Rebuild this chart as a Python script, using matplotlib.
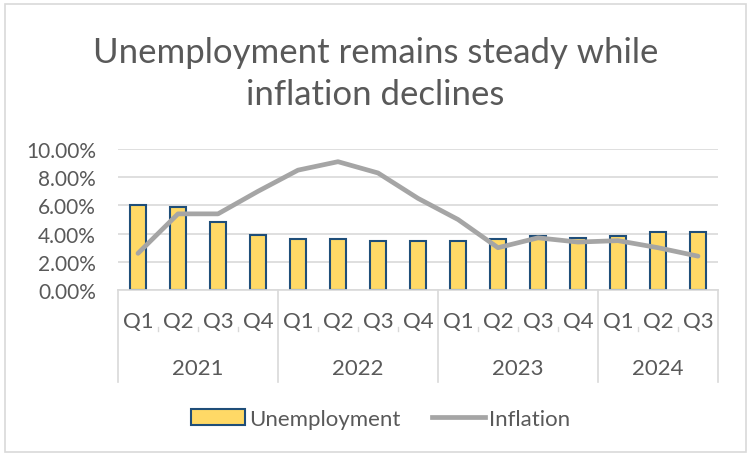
import numpy as np
import matplotlib.pyplot as plt
from matplotlib.patches import Rectangle
from matplotlib.lines import Line2D

years = ['2021', '2022', '2023', '2024']
quarters = ['Q1', 'Q2', 'Q3', 'Q4', 'Q1', 'Q2', 'Q3', 'Q4',
            'Q1', 'Q2', 'Q3', 'Q4', 'Q1', 'Q2', 'Q3']
year_sizes = [4, 4, 4, 3]
unemployment = [6.0, 5.9, 4.8, 3.9, 3.6, 3.6, 3.5, 3.5,
                3.5, 3.6, 3.8, 3.7, 3.8, 4.1, 4.1]
inflation = [2.6, 5.4, 5.4, 7.0, 8.5, 9.1, 8.3, 6.5,
             5.0, 3.0, 3.7, 3.4, 3.5, 3.0, 2.4]

plt.rcParams['font.family'] = ['Lato', 'DejaVu Sans']
txt = '#595959'
grid = '#D9D9D9'

fig = plt.figure(figsize=(7.51, 4.56), dpi=100)
W, H = 751, 456
ax = fig.add_axes([118 / W, 1 - 291 / H, 600 / W, 141 / H])

x = np.arange(len(quarters))
ax.bar(x, unemployment, width=0.4, color='#FFD966', edgecolor='#1F4E79',
       linewidth=1.5, zorder=2)
ax.plot(x, inflation, color='#A5A5A5', linewidth=3.4, solid_capstyle='round',
        solid_joinstyle='round', zorder=3)

ax.set_xlim(-0.5, len(quarters) - 0.5)
ax.set_ylim(0, 10)
ax.set_yticks(np.arange(0, 11, 2))
ax.set_yticklabels([f'{v:.2f}%' for v in np.arange(0, 11, 2)],
                   fontsize=15, color=txt)
ax.yaxis.grid(True, color=grid, linewidth=1.2, zorder=0)
ax.tick_params(axis='y', length=0, pad=16)
ax.set_xticks([])
for s in ['top', 'right', 'left']:
    ax.spines[s].set_visible(False)
ax.spines['bottom'].set_color(grid)
ax.spines['bottom'].set_linewidth(1.2)

# two-level category axis
trans = ax.get_xaxis_transform()
for i, q in enumerate(quarters):
    ax.text(i, -0.22, q, transform=trans, ha='center', va='center',
            fontsize=16, color=txt)
bounds = np.concatenate([[0], np.cumsum(year_sizes)]) - 0.5
for b in bounds:
    ax.plot([b, b], [0, -0.65], transform=trans, color=grid, lw=1.2,
            clip_on=False)
for i in range(len(quarters) - 1):
    if i + 0.5 not in bounds:
        ax.plot([i + 0.5, i + 0.5], [-0.26, -0.29], transform=trans,
                color=grid, lw=1, clip_on=False)
for j, y in enumerate(years):
    mid = (bounds[j] + bounds[j + 1]) / 2
    ax.text(mid, -0.55, y, transform=trans, ha='center', va='center',
            fontsize=16, color=txt)

fig.text(0.5, 1 - 74 / H, 'Unemployment remains steady while\ninflation declines',
         ha='center', va='center', fontsize=25, color=txt, linespacing=1.4)

handles = [Rectangle((0, 0), 1, 1, facecolor='#FFD966', edgecolor='#1F4E79', lw=1.5),
           Line2D([0], [0], color='#A5A5A5', lw=3.4)]
fig.legend(handles, ['Unemployment', 'Inflation'], loc='center',
           bbox_to_anchor=(381 / W, 1 - 420 / H), ncol=2, frameon=False,
           fontsize=16, labelcolor=txt, handlelength=2.4, handletextpad=0.2,
           columnspacing=1.4)

fig.patches.append(Rectangle((5 / W, 3 / H), 741 / W, 448 / H,
                             transform=fig.transFigure, fill=False,
                             edgecolor=grid, lw=1.2))

fig.savefig('out.png', dpi=100)
